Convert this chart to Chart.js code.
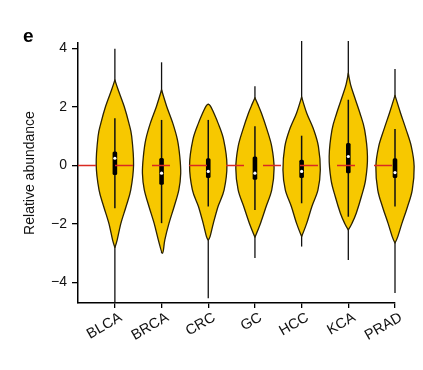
<!DOCTYPE html>
<html><head><meta charset="utf-8">
<script src="https://cdn.jsdelivr.net/npm/chart.js@4.4.1/dist/chart.umd.min.js"></script>
<style>html,body{margin:0;padding:0;background:#fff;}canvas{display:block}</style>
</head><body>
<canvas id="c" width="423" height="370"></canvas>
<script>
const categories = ['BLCA','BRCA','CRC','GC','HCC','KCA','PRAD'];
const yTickValues = [-4,-2,0,2,4];
const extremeMax = [3.99, 3.53, 2.08, 2.71, 4.33, 4.36, 3.30];
const extremeMin = [-4.75, -3.00, -4.54, -3.16, -2.77, -3.23, -4.36];
const whiskerHigh = [1.62, 1.56, 1.56, 1.34, 1.02, 2.25, 1.25];
const whiskerLow = [-1.46, -1.97, -1.40, -1.52, -1.29, -1.75, -1.40];
const q3 = [0.48, 0.26, 0.25, 0.31, 0.20, 0.77, 0.25];
const q1 = [-0.32, -0.66, -0.43, -0.49, -0.43, -0.26, -0.43];
const medians = [0.25, -0.26, -0.20, -0.26, -0.20, 0.31, -0.24];
const referenceLevel = 0;

// violin outlines: value levels and half-widths (in category units)
const violinLevels = [
  [2.93, 2.59, 2.02, 1.45, 1.00, 0.02, -0.83, -1.40, -1.97, -2.54, -2.80],
  [2.59, 2.02, 1.45, 0.88, 0.31, -0.26, -0.83, -1.40, -1.97, -2.54, -3.00],
  [2.10, 2.05, 1.90, 1.45, 0.88, 0.02, -0.83, -1.40, -1.97, -2.42, -2.55],
  [2.32, 2.10, 1.79, 1.22, 0.65, -0.09, -0.83, -1.40, -1.97, -2.45],
  [2.35, 1.79, 1.22, 0.65, -0.15, -0.83, -1.40, -1.97, -2.43],
  [3.16, 2.76, 2.36, 1.79, 1.22, 0.31, -0.49, -1.06, -1.63, -1.97, -2.20],
  [2.40, 1.79, 1.22, 0.65, -0.03, -0.83, -1.40, -1.97, -2.43, -2.65]
];
const violinHalfWidths = [
  [0, 0.07, 0.20, 0.30, 0.36, 0.40, 0.34, 0.24, 0.13, 0.05, 0],
  [0, 0.11, 0.24, 0.34, 0.39, 0.41, 0.37, 0.27, 0.16, 0.07, 0.02],
  [0, 0.04, 0.09, 0.21, 0.33, 0.40, 0.34, 0.21, 0.11, 0.04, 0],
  [0, 0.06, 0.14, 0.26, 0.36, 0.41, 0.36, 0.24, 0.12, 0],
  [0, 0.11, 0.26, 0.36, 0.40, 0.35, 0.22, 0.11, 0],
  [0, 0.05, 0.13, 0.25, 0.35, 0.41, 0.37, 0.28, 0.17, 0.08, 0],
  [0, 0.12, 0.24, 0.35, 0.41, 0.37, 0.27, 0.15, 0.06, 0]
];

const FONT = '"Liberation Sans", Arial, Helvetica, sans-serif';
const VIOLIN_FILL = '#f7c800';
const OUTLINE = '#2b2200';

const violinPlugin = {
  id: 'violins',
  beforeDatasetsDraw(chart) {
    const {ctx, chartArea, scales: {x, y}} = chart;
    ctx.save();
    ctx.beginPath();
    ctx.rect(chartArea.left, chartArea.top - 2, chart.width - chartArea.left, chartArea.height + 2);
    ctx.clip();
    categories.forEach((c, i) => {
      const cx = x.getPixelForValue(i);
      // full-range thin line
      ctx.strokeStyle = '#111';
      ctx.lineWidth = 1.3;
      ctx.beginPath();
      ctx.moveTo(cx, y.getPixelForValue(extremeMax[i]));
      ctx.lineTo(cx, y.getPixelForValue(extremeMin[i]));
      ctx.stroke();
      // violin body
      const lv = violinLevels[i], hw = violinHalfWidths[i];
      const right = lv.map((v, k) => ({x: x.getPixelForValue(i + hw[k]), y: y.getPixelForValue(v), tip: hw[k] === 0}));
      const left = lv.map((v, k) => ({x: x.getPixelForValue(i - hw[k]), y: y.getPixelForValue(v), tip: hw[k] === 0})).reverse();
      const pts = right.concat(left.slice(1, -1));
      const n = pts.length;
      const tan = pts.map((p, k) => {
        const a = pts[(k - 1 + n) % n], b = pts[(k + 1) % n];
        if (p.tip) return {x: 0, y: 0};
        return {x: b.x - a.x, y: b.y - a.y};
      });
      ctx.beginPath();
      ctx.moveTo(pts[0].x, pts[0].y);
      const t = 0.16;
      for (let k = 0; k < n; k++) {
        const k2 = (k + 1) % n;
        const p1 = pts[k], p2 = pts[k2];
        ctx.bezierCurveTo(p1.x + tan[k].x * t, p1.y + tan[k].y * t,
                          p2.x - tan[k2].x * t, p2.y - tan[k2].y * t,
                          p2.x, p2.y);
      }
      ctx.closePath();
      ctx.fillStyle = VIOLIN_FILL;
      ctx.fill();
      ctx.strokeStyle = OUTLINE;
      ctx.lineWidth = 1.3;
      ctx.lineJoin = 'round';
      ctx.stroke();
      // inner whisker
      ctx.strokeStyle = '#111';
      ctx.lineWidth = 1.5;
      ctx.beginPath();
      ctx.moveTo(cx, y.getPixelForValue(whiskerHigh[i]));
      ctx.lineTo(cx, y.getPixelForValue(whiskerLow[i]));
      ctx.stroke();
      // box
      const yt = y.getPixelForValue(q3[i]), yb = y.getPixelForValue(q1[i]);
      ctx.fillStyle = '#000';
      ctx.beginPath();
      if (ctx.roundRect) ctx.roundRect(cx - 2.3, yt, 4.6, yb - yt, 1.5); else ctx.rect(cx - 2.3, yt, 4.6, yb - yt);
      ctx.fill();
    });
    ctx.restore();
  },
  afterDatasetsDraw(chart) {
    const {ctx, scales: {x, y}} = chart;
    ctx.save();
    categories.forEach((c, i) => {
      ctx.fillStyle = '#fff';
      ctx.beginPath();
      ctx.arc(x.getPixelForValue(i), y.getPixelForValue(medians[i]), 1.6, 0, Math.PI * 2);
      ctx.fill();
    });
    ctx.fillStyle = '#000';
    ctx.font = 'bold 19px ' + FONT;
    ctx.textBaseline = 'alphabetic';
    ctx.fillText('e', 23, 42);
    ctx.restore();
  }
};

new Chart(document.getElementById('c'), {
  type: 'scatter',
  data: {
    datasets: [{
      type: 'line',
      data: [{x: -0.79, y: referenceLevel}, {x: 6, y: referenceLevel}],
      borderColor: '#d92a22',
      borderWidth: 1.6,
      borderDash: [18, 19],
      pointRadius: 0,
      fill: false
    }]
  },
  options: {
    responsive: false,
    animation: false,
    devicePixelRatio: 1,
    layout: {padding: {left: 0, right: 28, top: 43, bottom: 0}},
    plugins: {legend: {display: false}, tooltip: {enabled: false}},
    scales: {
      x: {
        type: 'linear',
        min: -0.79,
        max: 6,
        afterBuildTicks: s => { s.ticks = categories.map((c, i) => ({value: i})); },
        afterFit: s => { s.height = 67; },
        ticks: {
          autoSkip: false, maxRotation: 30, minRotation: 30, padding: 1, labelOffset: 6,
          color: '#111', font: {family: FONT, size: 14.5},
          callback: v => categories[v]
        },
        grid: {display: true, drawOnChartArea: false, drawTicks: true, tickLength: 5, color: '#000', lineWidth: 1.3},
        border: {display: true, color: '#000', width: 1.5}
      },
      y: {
        type: 'linear',
        min: -4.7,
        max: 4.19,
        afterBuildTicks: s => { s.ticks = yTickValues.map(v => ({value: v})); },
        afterFit: s => { s.width = 78; },
        ticks: {
          padding: 5, color: '#111', font: {family: FONT, size: 14},
          callback: v => (v < 0 ? '\u2212' + Math.abs(v) : String(v))
        },
        title: {display: true, text: 'Relative abundance', color: '#111', font: {family: FONT, size: 14}, padding: {top: 22, bottom: 0}},
        grid: {display: true, drawOnChartArea: false, drawTicks: true, tickLength: 6, color: '#000', lineWidth: 1.3},
        border: {display: true, color: '#000', width: 1.5}
      }
    }
  },
  plugins: [violinPlugin]
});
</script>
</body></html>
